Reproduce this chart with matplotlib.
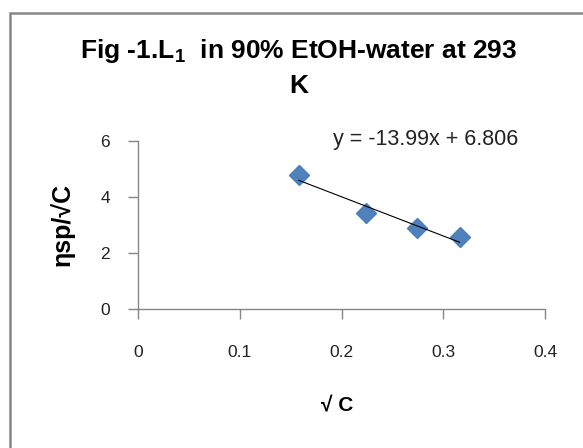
import numpy as np
import matplotlib
matplotlib.use("Agg")
import matplotlib.pyplot as plt
from matplotlib.patches import Rectangle

plt.rcParams['font.family'] = ['Liberation Sans', 'DejaVu Sans']
plt.rcParams['mathtext.fontset'] = 'custom'
plt.rcParams['mathtext.rm'] = 'Liberation Sans'

# data
sqrt_c = [0.158, 0.224, 0.274, 0.316]
eta_sp = [4.79, 3.44, 2.88, 2.56]
slope = -13.99
intercept = 6.806
x_ticks = [0, 0.1, 0.2, 0.3, 0.4]
y_ticks = [0, 2, 4, 6]

axis_grey = '#868686'

fig = plt.figure(figsize=(5.83, 4.48), dpi=100)
ax = fig.add_axes([138/583, 1 - 309/448, 407/583, 168/448])

# trend line
xl = np.array([min(sqrt_c), max(sqrt_c)])
ax.plot(xl, slope * xl + intercept, color='black', lw=0.8, zorder=3)
ax.plot(sqrt_c, eta_sp, 'D', color='#4F81BD', markeredgecolor='#4A7EBB',
        markersize=10.5, zorder=2)

ax.set_xlim(0, 0.4)
ax.set_ylim(0, 6)
ax.set_xticks(x_ticks)
ax.set_xticklabels(['0', '0.1', '0.2', '0.3', '0.4'])
ax.set_yticks(y_ticks)

for s in ['top', 'right']:
    ax.spines[s].set_visible(False)
for s in ['left', 'bottom']:
    ax.spines[s].set_color(axis_grey)
    ax.spines[s].set_linewidth(1.0)
ax.tick_params(axis='both', direction='out', length=7, width=1.0,
               color=axis_grey, labelsize=12.5, labelcolor='#222222')
ax.tick_params(axis='x', pad=19)
ax.tick_params(axis='y', pad=13)

ax.set_xlabel('√ C', fontsize=15, fontweight='bold')
ax.xaxis.set_label_coords(0.49, -0.52)
ax.set_ylabel('ηsp/√C', fontsize=18, fontweight='bold')
ax.yaxis.set_label_coords(-0.155, 0.505)

ax.text(0.479, 1.006, 'y = -13.99x + 6.806', transform=ax.transAxes,
        fontsize=15.5, ha='left', va='center', color='#222222')

fig.text(0.513, 1 - 37/448, 'Fig -1.L$_\\mathregular{1}$  in 90% EtOH-water at 293\nK',
         ha='center', va='top', fontsize=19, fontweight='bold',
         multialignment='center', linespacing=1.45)

# chart area border (cut off at right and bottom)
fig.add_artist(Rectangle((10/583, -0.1), 1.2, 1 - 13/448 + 0.1,
                         transform=fig.transFigure, fill=False,
                         edgecolor='#878787', lw=1.8))

fig.savefig('out.png', dpi=100)
